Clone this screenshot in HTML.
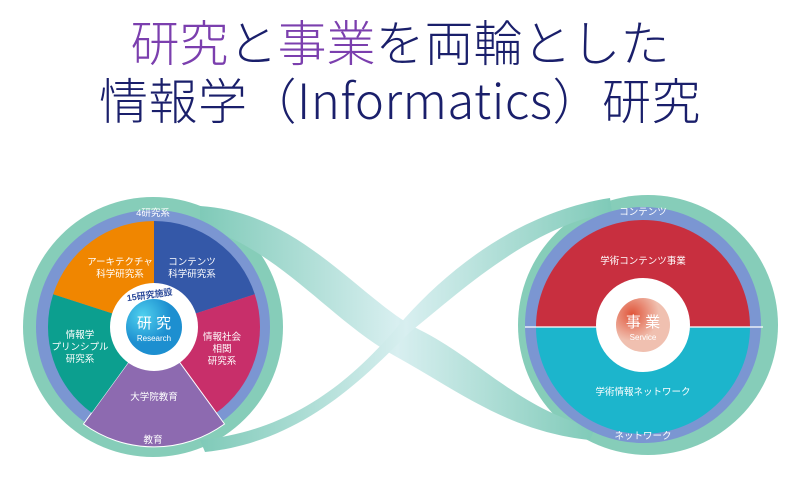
<!DOCTYPE html>
<html><head><meta charset="utf-8"><style>
body{margin:0;width:800px;height:482px;background:#fff;overflow:hidden;position:relative;font-family:"Liberation Sans","Noto Sans CJK JP",sans-serif}
.t{position:absolute;left:0;width:800px;text-align:center;color:#1a1f6b;font-family:"Noto Sans CJK JP",sans-serif;font-weight:300;font-size:49px;line-height:54px;white-space:nowrap}
.p{color:#7b3fae}
svg{position:absolute;left:0;top:0}
</style></head><body>
<div class="t" style="top:14px"><span class="p">研究</span>と<span class="p">事業</span>を両輪とした</div>
<div class="t" style="top:72px;font-size:49px;letter-spacing:0.5px">情報学（Informatics）研究</div>
<svg width="800" height="482" viewBox="0 0 800 482">
<defs>
<linearGradient id="rb" x1="0" x2="1"><stop offset="0" stop-color="#7fcab8"/><stop offset="0.5" stop-color="#d8eff0"/><stop offset="1" stop-color="#7fcab8"/></linearGradient>
<radialGradient id="rg" cx="0.3" cy="0.3"><stop offset="0" stop-color="#4fd0ee"/><stop offset="1" stop-color="#1d8fd0"/></radialGradient>
<radialGradient id="og" cx="0.3" cy="0.3"><stop offset="0" stop-color="#e0553a"/><stop offset="1" stop-color="#f0c0b0"/></radialGradient>
</defs>
<circle cx="153" cy="327" r="130" fill="#86cdb9"/>
<circle cx="648" cy="325" r="130" fill="#86cdb9"/>
<path d="M200 206 C300 212,360 300,420 330 C480 360,520 410,595 428 L590 440 C510 432,460 392,395 356 C330 320,280 250,200 226 Z" fill="url(#rb)"/>
<path d="M200 440 C300 430,360 372,405 318 C450 268,520 212,610 198 L612 212 C530 226,460 292,410 332 C360 382,300 442,205 452 Z" fill="url(#rb)"/>
<circle cx="153" cy="327" r="117" fill="#7b96d2"/>
<circle cx="643" cy="325" r="118" fill="#7b96d2"/>
<g transform="translate(154,327)">
<path d="M0 0 L0 -106 A106 106 0 0 1 100.8 -32.8 Z" fill="#3458a8"/>
<path d="M0 0 L100.8 -32.8 A106 106 0 0 1 62.3 85.8 Z" fill="#c82f6a"/>
<path d="M0 0 L70.5 97 A120 120 0 0 1 -70.5 97 Z" fill="#8d6ab0" stroke="#fff" stroke-width="1"/>
<path d="M0 0 L-62.3 85.8 A106 106 0 0 1 -100.8 -32.8 Z" fill="#0c9f8f"/>
<path d="M0 0 L-100.8 -32.8 A106 106 0 0 1 0 -106 Z" fill="#f08600"/>
<circle r="44" fill="#fff"/>
<circle r="28" fill="url(#rg)"/>
</g>
<g transform="translate(643,325)">
<path d="M-107 2 A107 107 0 0 1 107 2 Z" fill="#c82f3f"/>
<path d="M-107 2 A107 107 0 0 0 107 2 Z" fill="#1cb5cc"/>
<line x1="-118" y1="2" x2="120" y2="2" stroke="#fff" stroke-width="1.2"/>
<circle r="47" fill="#fff"/>
<circle r="27" fill="url(#og)"/>
</g>
<g fill="#fff" font-family="Liberation Sans,Noto Sans CJK JP,sans-serif" font-size="9.5" text-anchor="middle">
<text x="153" y="216">4研究系</text>
<text x="153" y="443">教育</text>
<text x="120" y="265">アーキテクチャ</text><text x="120" y="277">科学研究系</text>
<text x="192" y="265">コンテンツ</text><text x="192" y="277">科学研究系</text>
<text x="222" y="340">情報社会</text><text x="222" y="352">相関</text><text x="222" y="364">研究系</text>
<text x="80" y="338">情報学</text><text x="80" y="350">プリンシプル</text><text x="80" y="362">研究系</text>
<text x="154" y="400">大学院教育</text>
<text x="154" y="328" font-size="15">研 究</text>
<text x="154" y="341" font-size="8">Research</text>
<text x="643" y="215">コンテンツ</text>
<text x="643" y="439">ネットワーク</text>
<text x="643" y="264">学術コンテンツ事業</text>
<text x="643" y="395">学術情報ネットワーク</text>
<text x="643" y="327" font-size="15">事 業</text>
<text x="643" y="340" font-size="8">Service</text>
</g>
<text x="150" y="298" fill="#2c4a9a" font-size="9" font-weight="bold" text-anchor="middle" font-family="Liberation Sans,Noto Sans CJK JP,sans-serif" transform="rotate(-8 150 298)">15研究施設</text>
</svg>
</body></html>
